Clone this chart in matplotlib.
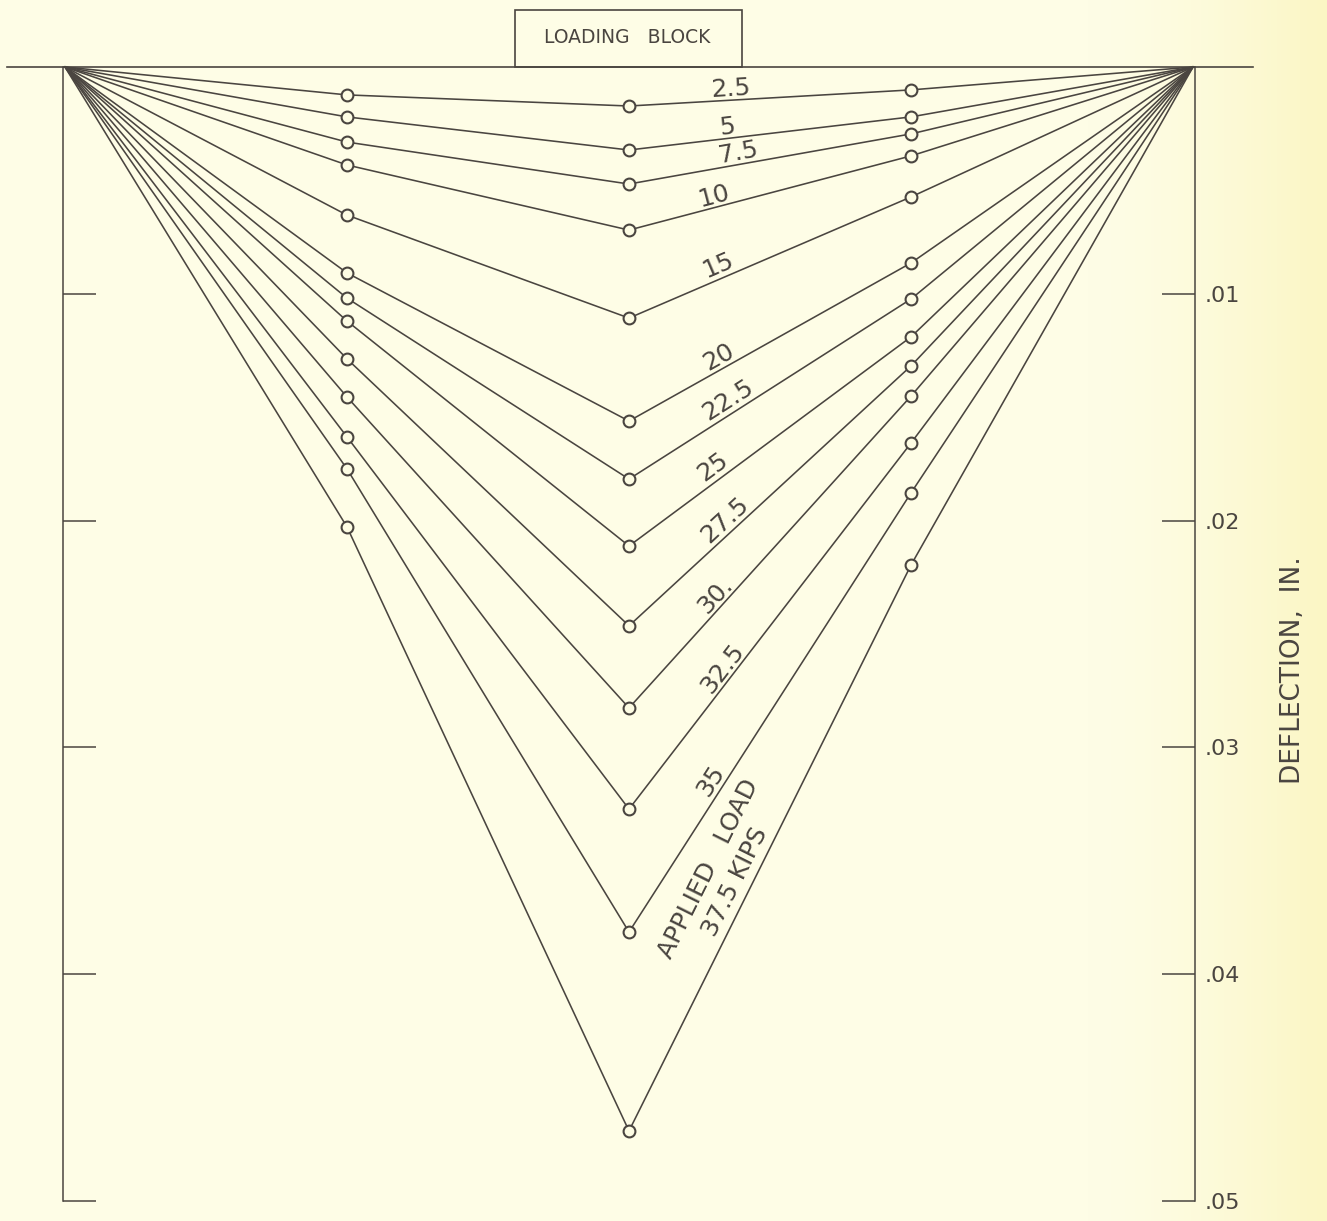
import numpy as np
import matplotlib
matplotlib.use("Agg")
import matplotlib.pyplot as plt
from matplotlib.patches import Rectangle

# ---------------- data ----------------
# gauge positions as fraction of span (supports at 0 and 1)
gauge_pos = [0.0, 0.25, 0.5, 0.75, 1.0]
loads = ["2.5", "5", "7.5", "10", "15", "20", "22.5", "25", "27.5", "30.", "32.5", "35", "37.5"]
defl_quarter_left = [0.00123, 0.00220, 0.00331, 0.00432, 0.00653, 0.00908, 0.01019,
                     0.01120, 0.01287, 0.01455, 0.01631, 0.01772, 0.02028]
defl_center = [0.00172, 0.00366, 0.00516, 0.00719, 0.01107, 0.01561, 0.01817,
               0.02112, 0.02464, 0.02826, 0.03272, 0.03814, 0.04691]
defl_quarter_right = [0.00101, 0.00220, 0.00295, 0.00392, 0.00573, 0.00864, 0.01023,
                      0.01190, 0.01318, 0.01451, 0.01658, 0.01878, 0.02196]
ytick_vals = [0.01, 0.02, 0.03, 0.04, 0.05]
ytick_labels = [".01", ".02", ".03", ".04", ".05"]

# label placement along the centre->right segment (fraction) and perpendicular offset (px)
label_t = [0.362, 0.354, 0.394, 0.31, 0.334, 0.337, 0.377, 0.326, 0.371, 0.336, 0.364, 0.328, 0.427]
label_off = [11, 11, 12, 11, 13, 12, 13, 13, 13, 12, 12, 13, 31]

# ---------------- style ----------------
BG = "#FDFCE3"
INK = "#4A4540"
W, H = 1327, 1221
plt.rcParams['font.family'] = ['DejaVu Sans']

fig = plt.figure(figsize=(W / 100, H / 100), dpi=100, facecolor=BG)

# subtle paper tint toward right edge
bgax = fig.add_axes([0, 0, 1, 1], zorder=-10)
grad = np.linspace(0, 1, 400)
tint = np.clip((grad - 0.82) / 0.18, 0, 1) ** 1.5
c0 = np.array([0xFE, 0xFD, 0xE6]) / 255
c1 = np.array([0xFB, 0xF6, 0xC4]) / 255
img = c0[None, :] * (1 - tint[:, None]) + c1[None, :] * tint[:, None]
bgax.imshow(img[None, :, :], aspect="auto", extent=[0, 1, 0, 1])
bgax.set_axis_off()

# axes placement in pixels
left_px, right_px, top_px, bot_px = 63, 1195, 67, 1201
ax = fig.add_axes([left_px / W, (H - bot_px) / H, (right_px - left_px) / W, (bot_px - top_px) / H])
ax.set_facecolor("none")
span_px = 1128
ax.set_xlim(-2 / span_px, 1 + 2 / span_px)
ax.set_ylim(0.05, 0.0)

for sp in ["top", "bottom"]:
    ax.spines[sp].set_visible(False)
for sp in ["left", "right"]:
    ax.spines[sp].set_color(INK)
    ax.spines[sp].set_linewidth(1.1)

ax.set_xticks([])
ax.set_yticks(ytick_vals)
ax.set_yticklabels(ytick_labels)
ax.tick_params(axis="y", left=True, right=True, labelleft=False, labelright=True,
               direction="in", length=24, width=1.1, color=INK, pad=7,
               labelsize=16, labelcolor=INK)

# zero (beam) line
ax.plot([-0.0514, 1.0532], [0, 0], color=INK, lw=1.2, clip_on=False, zorder=3)

# loading block
ax.add_patch(Rectangle((0.399, -0.00251), 0.201, 0.00251, fill=False, ec=INK, lw=1.2,
                       clip_on=False, zorder=3))
ax.text(0.4985, -0.00128, "LOADING   BLOCK", ha="center", va="center", fontsize=13.5,
        color=INK, clip_on=False)

# deflection curves
for i in range(len(loads)):
    y = [0.0, defl_quarter_left[i], defl_center[i], defl_quarter_right[i], 0.0]
    ax.plot(gauge_pos, y, color=INK, lw=1.15, zorder=4, clip_on=False)
    ax.plot(gauge_pos[1:4], y[1:4], ls="none", marker="o", ms=8.5, mfc=BG, mec=INK,
            mew=1.5, zorder=5)

# labels along right half segments
fig.canvas.draw()
tr = ax.transData
for i, lab in enumerate(loads):
    p0 = tr.transform((gauge_pos[2], defl_center[i]))
    p1 = tr.transform((gauge_pos[3], defl_quarter_right[i]))
    d = p1 - p0
    ang = np.degrees(np.arctan2(d[1], d[0]))
    u = d / np.hypot(*d)
    n = np.array([-u[1], u[0]])  # left normal (upward in display)
    pt_disp = p0 + label_t[i] * d
    pt_data = tr.inverted().transform(pt_disp)
    off = n * label_off[i] * 0.72
    text = lab if i < len(loads) - 1 else "APPLIED   LOAD\n" + lab + " KIPS"
    ax.annotate(text, xy=pt_data, xytext=(off[0], off[1]), textcoords="offset points",
                rotation=ang, rotation_mode="anchor", ha="center", va="center",
                fontsize=18, color=INK, linespacing=1.3, zorder=6)

fig.text(1293 / W, 1 - 670 / H, "DEFLECTION,  IN.", rotation=90, ha="center", va="center",
         fontsize=19, color=INK)

fig.savefig("out.png", dpi=100, facecolor=BG)
